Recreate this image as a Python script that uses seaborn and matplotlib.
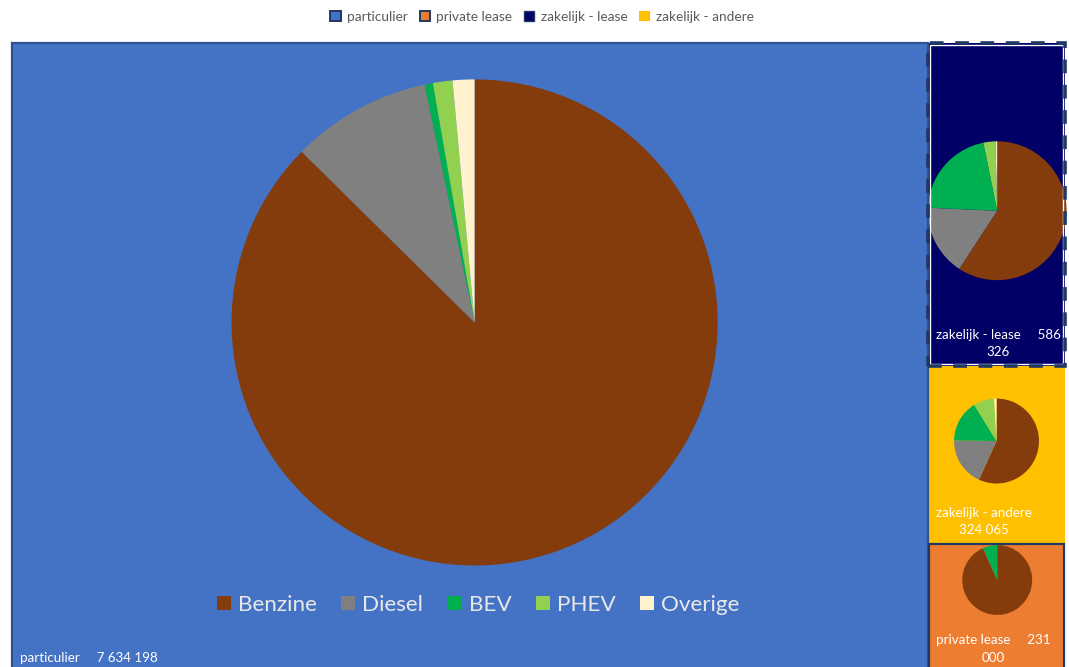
import matplotlib
matplotlib.use("Agg")
import matplotlib.pyplot as plt
import seaborn as sns
from matplotlib.patches import Rectangle, Patch

# ---------------- data ----------------
groups = ["particulier", "zakelijk - lease", "zakelijk - andere", "private lease"]
group_totals = [7634198, 586326, 324065, 231000]
legend_order = ["particulier", "private lease", "zakelijk - lease", "zakelijk - andere"]
fuels = ["Benzine", "Diesel", "BEV", "PHEV", "Overige"]
share_particulier = [87.4, 9.3, 0.55, 1.3, 1.45]
share_zakelijk_lease = [59.2, 16.5, 21.1, 2.8, 0.4]
share_zakelijk_andere = [56.8, 18.4, 16.0, 7.9, 0.9]
share_private_lease = [93.3, 0.0, 6.7, 0.0, 0.0]
shares = {
    "particulier": share_particulier,
    "zakelijk - lease": share_zakelijk_lease,
    "zakelijk - andere": share_zakelijk_andere,
    "private lease": share_private_lease,
}

# ---------------- style ----------------
group_colors = {"particulier": "#4472C4", "zakelijk - lease": "#000066",
                "zakelijk - andere": "#FFC000", "private lease": "#ED7D31"}
fuel_colors = ["#843C0C", "#808080", "#00B050", "#92D050", "#FFF2CC"]
# pie placement inside each tile: (centre x rel, centre y rel from top, radius rel, radius basis)
pie_layout = {
    "particulier": (0.505, 0.445, 0.387, "h"),
    "zakelijk - lease": (0.505, 0.52, 0.507, "w"),
    "zakelijk - andere": (0.50, 0.423, 0.31, "w"),
    "private lease": (0.505, 0.284, 0.255, "w"),
}

sns.set_theme(style="white")
plt.rcParams["font.family"] = ["Lato", "DejaVu Sans"]

W, H = 1069, 667
fig = plt.figure(figsize=(W / 100, H / 100), dpi=100)
ax = fig.add_axes([0, 0, 1, 1])
ax.set_xlim(0, W)
ax.set_ylim(0, H)
ax.axis("off")

# ---------------- treemap layout (pixel space, y from top) ----------------
TL, TT, TR, TB = 12, 43, 1065, 671
total = sum(group_totals)
tw, th = TR - TL, TB - TT
rects = {}
w0 = tw * group_totals[0] / total
rects[groups[0]] = (TL, TT, w0, th)
rest = sum(group_totals[1:])
y = TT
for g, v in zip(groups[1:], group_totals[1:]):
    h = th * v / rest
    rects[g] = (TL + w0, y, tw - w0, h)
    y += h


def to_data_y(ypx):
    return H - ypx


for g in groups:
    x0, t, w, h = rects[g]
    rect = Rectangle((x0, to_data_y(t + h)), w, h, facecolor=group_colors[g],
                     edgecolor="none", zorder=1)
    ax.add_patch(rect)

# borders
x0, t, w, h = rects["particulier"]
ax.add_patch(Rectangle((x0, to_data_y(t + h)), w, h, facecolor="none",
                       edgecolor="#2F528F", lw=1.6, zorder=2))
x0, t, w, h = rects["private lease"]
ax.add_patch(Rectangle((x0 + 1, to_data_y(t + h)), w - 2, h, facecolor="none",
                       edgecolor="#1F3864", lw=1.6, zorder=2))
x0, t, w, h = rects["zakelijk - lease"]
ax.add_patch(Rectangle((x0 + 2, to_data_y(t + h) + 2), w - 4, h - 4, facecolor="none",
                       edgecolor="white", lw=1.0, zorder=3))
ax.add_patch(Rectangle((x0, to_data_y(t + h)), w, h, facecolor="none",
                       edgecolor="#1F3864", lw=2.6, linestyle=(0, (3.8, 3.2)), zorder=4))

# ---------------- pies ----------------
for g in groups:
    x0, t, w, h = rects[g]
    cxr, cyr, rr, basis = pie_layout[g]
    cx = x0 + cxr * w
    cy = to_data_y(t + cyr * h)
    r = rr * (h if basis == "h" else w)
    ax.pie(shares[g], colors=fuel_colors, startangle=90, counterclock=False,
           center=(cx, cy), radius=r, frame=True,
           wedgeprops=dict(linewidth=0, edgecolor="none"))

ax.set_xlim(0, W)
ax.set_ylim(0, H)
ax.set_aspect("equal")
ax.axis("off")

# ---------------- tile labels ----------------
renderer = fig.canvas.get_renderer()
label_fs = 9.6
sep = "     "


def text_width(s):
    tt = ax.text(0, 0, s, fontsize=label_fs)
    bb = tt.get_window_extent(renderer)
    tt.remove()
    return bb.width


for g, v in zip(groups, group_totals):
    x0, t, w, h = rects[g]
    num_tokens = f"{v:,}".split(",")
    tokens = [(tok, " ") for tok in g.split(" ")] + [(tok, " ") for tok in num_tokens]
    tokens[len(g.split(" "))] = (num_tokens[0], sep)
    max_w = w - 9 if w < 300 else w - 20
    lines = []
    cur = ""
    for tok, s in tokens:
        cand = tok if cur == "" else cur + s + tok
        if cur != "" and text_width(cand) > max_w:
            lines.append(cur)
            cur = tok
        else:
            cur = cand
    lines.append(cur)
    ax.text(x0 + 8, to_data_y(t + h - 7.5), "\n".join(lines), color="white",
            fontsize=label_fs, ha="left", va="bottom", multialignment="center",
            linespacing=1.5, zorder=5)

# ---------------- inner fuel legend ----------------
x0, t, w, h = rects["particulier"]
fuel_handles = [Patch(facecolor=c, edgecolor="none", label=f) for f, c in zip(fuels, fuel_colors)]
ax.legend(handles=fuel_handles, loc="center", ncol=5, frameon=False,
          bbox_to_anchor=(x0 + 0.509 * w, to_data_y(t + 0.895 * h)),
          bbox_transform=ax.transData, fontsize=16.2, labelcolor="#E8E8E8",
          handlelength=0.62, handleheight=0.62, handletextpad=0.3,
          columnspacing=1.1)

# ---------------- top legend ----------------
top_handles = []
for g in legend_order:
    if g == "zakelijk - andere":
        top_handles.append(Patch(facecolor=group_colors[g], edgecolor="none", label=g))
    elif g == "zakelijk - lease":
        top_handles.append(Patch(facecolor=group_colors[g], edgecolor="#1F3864", lw=1.0, label=g))
    else:
        top_handles.append(Patch(facecolor=group_colors[g], edgecolor="#1F3864", lw=1.4, label=g))
fig.legend(handles=top_handles, loc="center", ncol=4, frameon=False,
           bbox_to_anchor=(542 / W, 1 - 17 / H), fontsize=9.8, labelcolor="#595959",
           handlelength=0.75, handleheight=0.75, handletextpad=0.45,
           columnspacing=0.9)

fig.savefig("out.png", dpi=100)
